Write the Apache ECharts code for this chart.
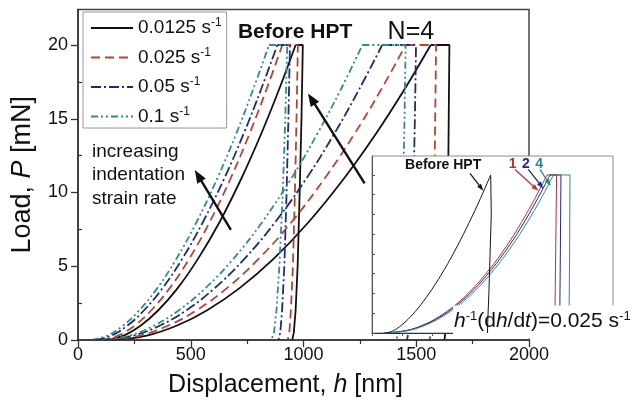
<!DOCTYPE html>
<html>
<head>
<meta charset="utf-8">
<script src="https://cdn.jsdelivr.net/npm/echarts@6/dist/echarts.min.js"></script>
<style>
html, body { margin: 0; padding: 0; background: #fff; }
#c { width: 634px; height: 405px; }
</style>
</head>
<body>
<div id="c"></div>
<script>
// ---- data -------------------------------------------------------------
// Load levels (mN) at which the loading branches are sampled
const loadSteps = [0, 0.3, 1, 2, 3.5, 5.5, 8, 11, 14, 17, 20];
// Load levels (mN) for hold + unloading branches: peak, end of hold, unloading
const unloadSteps = [20, 20, 15, 10, 5, 2, 0.5, 0];

const rates = ['0.0125', '0.025', '0.05', '0.1'];

// Before HPT: displacement (nm) on loading, per strain rate
const beforeLoad0125 = [120, 202, 280, 355, 441, 532, 628, 726, 813, 892, 965];
const beforeLoad025  = [100, 178, 253, 324, 406, 493, 584, 678, 761, 836, 906];
const beforeLoad05   = [75, 148, 221, 292, 374, 462, 554, 650, 735, 812, 884];
const beforeLoad1    = [60, 131, 202, 271, 351, 436, 526, 619, 702, 777, 847];
// Before HPT: hold + unloading displacement (nm)
const beforeUnload0125 = [965, 997, 991, 983, 974, 965, 957, 950];
const beforeUnload025  = [906, 975, 969, 962, 953, 944, 937, 930];
const beforeUnload05   = [884, 940, 933, 925, 915, 905, 897, 889];
const beforeUnload1    = [847, 928, 919, 908, 893, 880, 869, 858];

// N=4: displacement (nm) on loading
const n4Load0125 = [150, 305, 442, 571, 715, 867, 1023, 1182, 1322, 1448, 1564];
const n4Load025  = [130, 275, 403, 524, 659, 801, 947, 1096, 1227, 1345, 1453];
const n4Load05   = [110, 246, 366, 479, 605, 738, 875, 1015, 1137, 1247, 1349];
const n4Load1    = [100, 227, 340, 446, 564, 689, 817, 948, 1062, 1166, 1261];
// N=4: hold + unloading displacement (nm)
const n4Unload0125 = [1564, 1647, 1644, 1641, 1636, 1632, 1629, 1625];
const n4Unload025  = [1453, 1588, 1584, 1580, 1574, 1568, 1564, 1559];
const n4Unload05   = [1349, 1499, 1494, 1487, 1479, 1472, 1465, 1459];
const n4Unload1    = [1261, 1453, 1448, 1441, 1433, 1426, 1419, 1413];

// Inset, h^-1(dh/dt) = 0.025 s^-1
const insetBeforeLoad = [120, 178, 245, 316, 401, 496, 599, 708, 807, 899, 985];
const insetBeforeUnloadSteps = [20, 20, 15, 10, 5, 2, 0];
const insetBeforeUnload = [985, 1001, 990, 980, 970, 962, 958];
const insetN1Load = [95, 279, 421, 548, 687, 829, 972, 1116, 1240, 1351, 1452];
const insetN2Load = [100, 286, 431, 560, 700, 845, 990, 1136, 1262, 1374, 1477];
const insetN4Load = [110, 299, 445, 576, 719, 865, 1012, 1160, 1288, 1402, 1506];
const insetHpUnloadSteps = [20, 20, 10, 3.3];
const insetN1Unload = [1452, 1532, 1524, 1519];
const insetN2Unload = [1477, 1568, 1563, 1559];
const insetN4Unload = [1506, 1643, 1640, 1636];

// Tick values
const mainLoadTicks = [0, 5, 10, 15, 20];
const mainLoadMinor = [2.5, 7.5, 12.5, 17.5];
const insetLoadTicks = [0, 2.5, 5, 7.5, 10, 12.5, 15, 17.5, 20];

// Annotation anchors (data coordinates)
const mainArrows = [[[678, 7.46], [518, 11.53]], [[1271, 10.62], [1020, 16.72]]];
const insetArrows = [
  [[813, 20.2], [924, 18.0]],
  [[1187, 20.7], [1380, 18.0]],
  [[1297, 20.7], [1422, 18.3]],
  [[1394, 20.7], [1483, 18.6]]
];
const insetNumbers = [['1', 1168], ['2', 1278], ['4', 1388]];

// ---- styles -----------------------------------------------------------
const FONT = "'Liberation Sans', Arial, Helvetica, sans-serif";
const rateColors = ['#111111', '#b4452e', '#1f2b7a', '#2f8c8c'];
const rateDash = ['solid', [9, 5], [10, 3, 2, 3], [7, 3, 2, 3, 2, 3]];
const insetColors = { before: '#151515', n1: '#b3343c', n2: '#25278c', n4: '#2a8c88' };

const pairs = (xs, ys) => xs.map((x, i) => [x, ys[i]]);

function line(name, xi, yi, data, color, dash, width, z, smooth) {
  return {
    type: 'line', name, xAxisIndex: xi, yAxisIndex: yi, data,
    smooth: smooth ? 0.4 : false,
    symbol: 'none', silent: true, z,
    itemStyle: { color },
    lineStyle: { color, type: dash, width }
  };
}

const series = [];
const mainLoads = [
  [beforeLoad0125, beforeUnload0125, n4Load0125, n4Unload0125],
  [beforeLoad025, beforeUnload025, n4Load025, n4Unload025],
  [beforeLoad05, beforeUnload05, n4Load05, n4Unload05],
  [beforeLoad1, beforeUnload1, n4Load1, n4Unload1]
];
rates.forEach((r, k) => {
  const [bl, bu, nl, nu] = mainLoads[k];
  const c = rateColors[k], d = rateDash[k];
  series.push(line(r, 0, 0, pairs(bl, loadSteps), c, d, 1.8, 2, true));
  series.push(line(r, 0, 0, pairs(bu, unloadSteps), c, d, 1.8, 2, false));
  series.push(line(r, 0, 0, pairs(nl, loadSteps), c, d, 1.8, 2, true));
  series.push(line(r, 0, 0, pairs(nu, unloadSteps), c, d, 1.8, 2, false));
});

// inset curves
series.push(line('N=1', 1, 2, pairs(insetN1Load, loadSteps), insetColors.n1, 'solid', 1, 12, true));
series.push(line('N=1', 1, 2, pairs(insetN1Unload, insetHpUnloadSteps), insetColors.n1, 'solid', 1, 12, false));
series.push(line('N=2', 1, 2, pairs(insetN2Load, loadSteps), insetColors.n2, 'solid', 1, 12, true));
series.push(line('N=2', 1, 2, pairs(insetN2Unload, insetHpUnloadSteps), insetColors.n2, 'solid', 1, 12, false));
series.push(line('N=4', 1, 2, pairs(insetN4Load, loadSteps), insetColors.n4, 'solid', 1, 12, true));
series.push(line('N=4', 1, 2, pairs(insetN4Unload, insetHpUnloadSteps), insetColors.n4, 'solid', 1, 12, false));
series.push(line('Before HPT', 1, 2, pairs(insetBeforeLoad, loadSteps), insetColors.before, 'solid', 1, 14, true));
series.push(line('Before HPT', 1, 2, pairs(insetBeforeUnload, insetBeforeUnloadSteps), insetColors.before, 'solid', 1, 14, false));

const axisCol = '#333';
const plainNumber = v => String(v);
const option = {
  animation: false,
  backgroundColor: '#ffffff',
  textStyle: { fontFamily: FONT },
  grid: [
    { left: 78, right: 105, top: 9.6, bottom: 65, show: true, borderColor: '#444', borderWidth: 1.5, backgroundColor: 'transparent', z: 1 },
    { left: 372, right: 21, top: 156, bottom: 72, show: true, borderColor: '#8c8c8c', borderWidth: 1, backgroundColor: '#ffffff', z: 10 }
  ],
  legend: {
    orient: 'vertical', left: 83, top: 12,
    itemWidth: 42, itemHeight: 14, itemGap: 9,
    padding: [5, 5, 2, 7],
    borderColor: '#9a9a9a', borderWidth: 1, backgroundColor: '#ffffff',
    selectedMode: false, z: 6,
    itemStyle: { opacity: 0 },
    data: rates,
    formatter: n => `{t|${n} s}{s|-1}`,
    textStyle: {
      fontFamily: FONT, fontSize: 19, color: '#111',
      rich: {
        t: { fontFamily: FONT, fontSize: 19, lineHeight: 22, color: '#111' },
        s: { fontFamily: FONT, fontSize: 12, lineHeight: 12, verticalAlign: 'top', color: '#111' }
      }
    }
  },
  xAxis: [
    {
      type: 'value', gridIndex: 0, min: 0, max: 2000, interval: 500,
      axisLine: { show: true, onZero: false, lineStyle: { color: axisCol, width: 1.5 } },
      axisTick: { show: true, length: 7, lineStyle: { color: axisCol, width: 1.3 } },
      minorTick: { show: true, splitNumber: 2, length: 4, lineStyle: { color: axisCol, width: 1.2 } },
      splitLine: { show: false },
      axisLabel: { fontFamily: FONT, fontSize: 18, color: '#111', margin: 6, formatter: plainNumber },
      name: '{a|Displacement, }{i|h}{a| [nm]}',
      nameLocation: 'middle', nameGap: 33,
      nameTextStyle: {
        padding: [0, 36, 0, 0],
        rich: {
          a: { fontFamily: FONT, fontSize: 25, color: '#111' },
          i: { fontFamily: FONT, fontSize: 25, fontStyle: 'italic', color: '#111' }
        }
      },
      z: 3
    },
    {
      type: 'value', gridIndex: 1, min: 0, max: 2000, interval: 250,
      axisLine: { show: true, onZero: false, lineStyle: { color: '#333', width: 1 } },
      axisTick: { show: true, length: 3, lineStyle: { color: '#555', width: 1 } },
      axisLabel: { show: false }, splitLine: { show: false }, z: 11
    }
  ],
  yAxis: [
    {
      type: 'value', gridIndex: 0, min: 0, max: 22.4, interval: 5,
      axisLine: { show: true, onZero: false, lineStyle: { color: axisCol, width: 1.5 } },
      axisTick: { show: true, length: 7, customValues: mainLoadTicks, lineStyle: { color: axisCol, width: 1.3 } },
      axisLabel: { customValues: mainLoadTicks, fontFamily: FONT, fontSize: 18, color: '#111', margin: 10, formatter: plainNumber },
      splitLine: { show: false },
      name: '{a|Load, }{i|P}{a| [mN]}',
      nameLocation: 'middle', nameGap: 42,
      nameTextStyle: {
        rich: {
          a: { fontFamily: FONT, fontSize: 27, color: '#111' },
          i: { fontFamily: FONT, fontSize: 27, fontStyle: 'italic', color: '#111' }
        }
      },
      z: 3
    },
    {
      type: 'value', gridIndex: 0, min: 0, max: 22.4, interval: 2.5,
      axisLine: { show: false },
      axisTick: { show: true, length: 4, customValues: mainLoadMinor, lineStyle: { color: axisCol, width: 1.2 } },
      axisLabel: { show: false }, splitLine: { show: false }, z: 3
    },
    {
      type: 'value', gridIndex: 1, min: 0, max: 22.4, interval: 2.5,
      axisLine: { show: true, onZero: false, lineStyle: { color: '#555', width: 1 } },
      axisTick: { show: true, inside: true, length: 3, customValues: insetLoadTicks, lineStyle: { color: '#555', width: 1 } },
      axisLabel: { show: false }, splitLine: { show: false }, z: 11
    }
  ],
  series
};

const chart = echarts.init(document.getElementById('c'), null, { renderer: 'canvas', width: 634, height: 405 });
chart.setOption(option);

// ---- annotations, placed through the axes ------------------------------
const toMain = v => chart.convertToPixel({ xAxisIndex: 0, yAxisIndex: 0 }, v);
const toInset = v => chart.convertToPixel({ xAxisIndex: 1, yAxisIndex: 2 }, v);

function arrow(a, b, w, hl, hw, color, z) {
  const dx = b[0] - a[0], dy = b[1] - a[1], L = Math.hypot(dx, dy);
  const ux = dx / L, uy = dy / L, nx = -uy, ny = ux;
  const base = [b[0] - ux * hl, b[1] - uy * hl];
  return [
    { type: 'line', silent: true, z,
      shape: { x1: a[0], y1: a[1], x2: base[0] + ux * 1.5, y2: base[1] + uy * 1.5 },
      style: { stroke: color, lineWidth: w } },
    { type: 'polygon', silent: true, z,
      shape: { points: [b, [base[0] + nx * hw / 2, base[1] + ny * hw / 2], [base[0] - nx * hw / 2, base[1] - ny * hw / 2]] },
      style: { fill: color } }
  ];
}

function text(pos, str, style, z) {
  return { type: 'text', x: pos[0], y: pos[1], silent: true, z,
    style: Object.assign({ text: str, fontFamily: FONT, fill: '#111', align: 'left', verticalAlign: 'middle' }, style) };
}

const g = [];
mainArrows.forEach(([a, b]) => g.push(...arrow(toMain(a), toMain(b), 2.4, 13, 10, '#111', 20)));
g.push(text(toMain([62, 11.19]), 'increasing\nindentation\nstrain rate', { fontSize: 19, lineHeight: 23.5 }, 20));
g.push(text(toMain([709, 20.9]), 'Before HPT', { fontSize: 21, fontWeight: 'bold' }, 20));
g.push(text(toMain([1373, 20.9]), 'N=4', { fontSize: 25 }, 20));

// inset labels
g.push(text(toInset([274, 21.2]), 'Before HPT', { fontSize: 14, fontWeight: 'bold' }, 20));
const arrowCols = [insetColors.before, insetColors.n1, insetColors.n2, insetColors.n4];
insetArrows.forEach(([a, b], i) => g.push(...arrow(toInset(a), toInset(b), 1.3, 7, 5, arrowCols[i], 20)));
insetNumbers.forEach(([t, x], i) => {
  g.push(text(toInset([x, 21.4]), t, { fontSize: 14, fontWeight: 'bold', align: 'center', fill: arrowCols[i + 1] }, 20));
});
const fPos = toInset([672, 1.39]);
g.push({
  type: 'text', silent: true, z: 13, x: fPos[0], y: fPos[1],
  style: {
    text: '{i|h}{s|-1}{n|(d}{i|h}{n|/d}{i|t}{n|)=0.025 s}{s|-1}',
    align: 'left', verticalAlign: 'middle',
    backgroundColor: '#ffffff', padding: [4, 2, 5, 1],
    rich: {
      n: { fontFamily: FONT, fontSize: 21, lineHeight: 24, fill: '#111' },
      i: { fontFamily: FONT, fontSize: 21, lineHeight: 24, fontStyle: 'italic', fill: '#111' },
      s: { fontFamily: FONT, fontSize: 13, lineHeight: 13, verticalAlign: 'top', fill: '#111' }
    }
  }
});

chart.setOption({ graphic: { elements: g } });
</script>
</body>
</html>
